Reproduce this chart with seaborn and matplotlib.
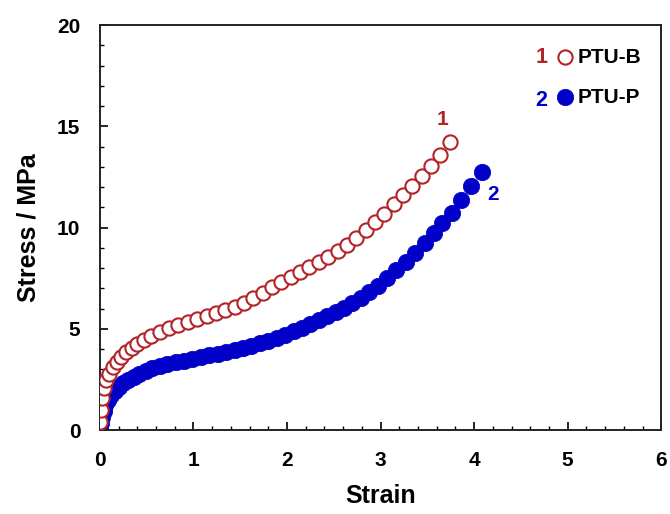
import matplotlib
matplotlib.use("Agg")
import matplotlib.pyplot as plt
import seaborn as sns
import pandas as pd
from matplotlib.ticker import MultipleLocator

# ---- data ----
strain_b = [0.00, 0.01, 0.02, 0.04, 0.07, 0.10, 0.14, 0.18, 0.23, 0.28, 0.34, 0.40,
            0.47, 0.55, 0.64, 0.74, 0.84, 0.94, 1.04, 1.14, 1.24, 1.34, 1.44, 1.54,
            1.64, 1.74, 1.84, 1.94, 2.04, 2.14, 2.24, 2.34, 2.44, 2.54, 2.64, 2.74,
            2.84, 2.94, 3.04, 3.14, 3.24, 3.34, 3.44, 3.54, 3.64, 3.74]
stress_b = [0.4, 1.0, 1.6, 2.1, 2.5, 2.8, 3.1, 3.35, 3.6, 3.85, 4.05, 4.25,
            4.45, 4.65, 4.85, 5.05, 5.2, 5.35, 5.5, 5.65, 5.8, 5.95, 6.1, 6.3,
            6.55, 6.8, 7.05, 7.3, 7.55, 7.8, 8.05, 8.3, 8.55, 8.85, 9.15, 9.5,
            9.9, 10.3, 10.7, 11.15, 11.6, 12.05, 12.55, 13.05, 13.6, 14.25]

strain_p = [0.00, 0.01, 0.02, 0.04, 0.06, 0.09, 0.12, 0.16, 0.20, 0.25, 0.30, 0.36,
            0.42, 0.49, 0.56, 0.64, 0.72, 0.81, 0.90, 0.99, 1.08, 1.17, 1.26, 1.35,
            1.44, 1.53, 1.62, 1.71, 1.80, 1.89, 1.98, 2.07, 2.16, 2.25, 2.34, 2.43,
            2.52, 2.61, 2.70, 2.79, 2.88, 2.97, 3.07, 3.17, 3.27, 3.37, 3.47, 3.57,
            3.66, 3.76, 3.86, 3.97, 4.08]
stress_p = [0.0, 0.35, 0.65, 0.95, 1.25, 1.5, 1.75, 1.95, 2.15, 2.35, 2.5, 2.65,
            2.8, 2.93, 3.05, 3.15, 3.25, 3.35, 3.44, 3.53, 3.62, 3.7, 3.78, 3.87,
            3.97, 4.07, 4.18, 4.3, 4.43, 4.57, 4.72, 4.88, 5.05, 5.23, 5.42, 5.62,
            5.83, 6.05, 6.3, 6.55, 6.82, 7.1, 7.5, 7.9, 8.3, 8.75, 9.25, 9.75,
            10.25, 10.75, 11.35, 12.05, 12.75]

labels = ["PTU-B", "PTU-P"]
numbers = ["1", "2"]
x_ticks = [0, 1, 2, 3, 4, 5, 6]
y_ticks = [0, 5, 10, 15, 20]

RED = "#B3242A"
BLUE = "#0000C8"

sns.set_theme(style="ticks")
plt.rcParams["font.family"] = ["Liberation Sans", "DejaVu Sans"]
plt.rcParams["font.weight"] = "bold"
plt.rcParams["text.color"] = "black"

df_b = pd.DataFrame({"Strain": strain_b, "Stress": stress_b})
df_p = pd.DataFrame({"Strain": strain_p, "Stress": stress_p})

fig = plt.figure(figsize=(6.7, 5.14), dpi=100)
ax = fig.add_axes([0.149, 0.163, 0.838, 0.788])

sns.scatterplot(data=df_b, x="Strain", y="Stress", ax=ax, marker="o", s=105,
                facecolor="white", edgecolor=RED, linewidth=1.5, label=labels[0],
                zorder=3)
sns.scatterplot(data=df_p, x="Strain", y="Stress", ax=ax, marker="o", s=140,
                color=BLUE, edgecolor=BLUE, linewidth=0.5, label=labels[1],
                zorder=2)

ax.set_xlim(x_ticks[0], x_ticks[-1])
ax.set_ylim(y_ticks[0], y_ticks[-1])
ax.set_xticks(x_ticks)
ax.set_yticks(y_ticks)
ax.xaxis.set_minor_locator(MultipleLocator(0.2))
ax.yaxis.set_minor_locator(MultipleLocator(1))
ax.tick_params(which="major", direction="in", length=6, width=1.2,
               labelsize=15, color="black", labelcolor="black")
ax.tick_params(axis="x", which="major", pad=15)
ax.tick_params(axis="y", which="major", pad=14)
ax.tick_params(which="minor", direction="in", length=3, width=1.0, color="black")
for lab in ax.get_xticklabels() + ax.get_yticklabels():
    lab.set_fontweight("bold")
for sp in ax.spines.values():
    sp.set_linewidth(1.4)
    sp.set_color("#222222")
    sp.set_visible(True)

ax.set_xlabel("Strain", fontsize=18, fontweight="bold", labelpad=10, color="black")
ax.set_ylabel("Stress / MPa", fontsize=18, fontweight="bold", labelpad=12, color="black")

leg = ax.legend(loc="upper left", bbox_to_anchor=(0.795, 0.965), frameon=False,
                handletextpad=0.1, handlelength=1.0, labelspacing=1.0,
                borderaxespad=0, prop={"weight": "bold", "size": 15})
for t in leg.get_texts():
    t.set_color("black")

ax.text(0.787, 0.919, numbers[0], transform=ax.transAxes, color=RED, fontsize=15.5,
        fontweight="bold", ha="center", va="center")
ax.text(0.787, 0.814, numbers[1], transform=ax.transAxes, color=BLUE, fontsize=15.5,
        fontweight="bold", ha="center", va="center")

ax.text(strain_b[-1] - 0.08, stress_b[-1] + 1.1, numbers[0], color=RED, fontsize=15,
        fontweight="bold", ha="center", va="center")
ax.text(strain_p[-1] + 0.12, stress_p[-1] - 1.1, numbers[1], color=BLUE, fontsize=15,
        fontweight="bold", ha="center", va="center")

fig.savefig("out.png", dpi=100, facecolor="white")
